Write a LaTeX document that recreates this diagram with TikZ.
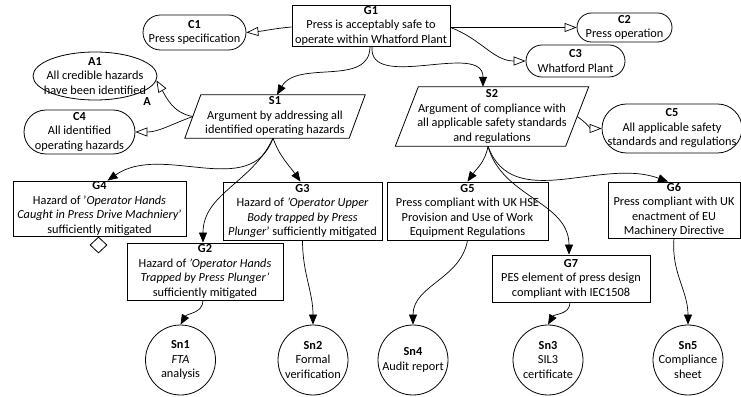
\documentclass[tikz,border=0pt]{standalone}
\usepackage{fontspec}
\setmainfont{Carlito}
\usetikzlibrary{shapes.geometric,shapes.misc,arrows.meta,calc}

\begin{document}
\begin{tikzpicture}[x=1pt,y=1pt,
  font=\fontsize{12.3}{14.5}\selectfont,
  box/.style={draw, line width=0.8pt, align=center, inner sep=0pt},
  goal/.style={box, rectangle},
  txt/.style={label={[align=center, inner sep=0pt]center:{#1}}},
  ctx/.style={box, rounded rectangle, txt={#1}},
  assum/.style={box, ellipse, txt={#1}},
  sol/.style={box, circle, minimum size=70pt, txt={#1}},
  strat/.style={align=center, inner sep=0pt},
  support/.style={line width=0.7pt, -{Triangle[length=10pt,width=8pt]}},
  incontext/.style={line width=0.7pt, -{Triangle[open,length=12pt,width=9pt,fill=white]}},
]
\useasboundingbox (0,0) rectangle (741,396);

% goals
\node[goal, minimum width=158, minimum height=41] (G1) at (371,370.5)
  {\textbf{G1}\\Press is acceptably safe to\\operate within Whatford Plant};
\node[goal, minimum width=173, minimum height=55] (G4) at (99.5,187.5)
  {\textbf{G4}\\Hazard of '\textit{Operator Hands}\\\textit{Caught in Press Drive Machniery}'\\sufficiently mitigated};
\node[goal, minimum width=159, minimum height=58] (G3) at (302.5,185)
  {\textbf{G3}\\Hazard of \textit{'Operator Upper}\\\textit{Body trapped by Press}\\\textit{Plunger}' sufficiently mitigated};
\node[goal, minimum width=156, minimum height=57] (G2) at (205,124.5)
  {\textbf{G2}\\Hazard of \textit{'Operator Hands}\\\textit{Trapped by Press Plunger'}\\sufficiently mitigated};
\node[goal, minimum width=161, minimum height=58] (G5) at (467.5,185)
  {\textbf{G5}\\Press compliant with UK HSE\\Provision and Use of Work\\Equipment Regulations};
\node[goal, minimum width=132, minimum height=56] (G6) at (674,186)
  {\textbf{G6}\\Press compliant with UK\\enactment of EU\\Machinery Directive};
\node[goal, minimum width=158, minimum height=47] (G7) at (571,117.5)
  {\textbf{G7}\\PES element of press design\\compliant with IEC1508};

% contexts and assumption
\node[ctx={\textbf{C1}\\Press specification}, minimum width=103, minimum height=35] (C1) at (194.5,363.5) {};
\node[ctx={\textbf{C2}\\Press operation}, minimum width=95, minimum height=29] (C2) at (624.5,368.5) {};
\node[ctx={\textbf{C3}\\Whatford Plant}, minimum width=99, minimum height=32] (C3) at (575.5,335) {};
\node[ctx={\textbf{C4}\\All identified\\operating hazards}, minimum width=111, minimum height=44] (C4) at (79.5,264) {};
\node[ctx={\textbf{C5}\\All applicable safety\\standards and regulations}, minimum width=140, minimum height=49] (C5) at (672,267.5) {};
\node[assum={\textbf{A1}\\All credible hazards\\have been identified}, minimum width=124, minimum height=48] (A1) at (95,320) {};
\node[font=\fontsize{12.3}{14}\selectfont\bfseries] (A1tag) at (147,294) {A};

% strategies (parallelograms drawn round their text nodes)
\node[strat, minimum width=164, minimum height=43] (S1) at (275,279.5)
  {\textbf{S1}\\Argument by addressing all\\identified operating hazards};
\draw[line width=0.8pt] ($(S1.north west)+(8,0)$) -- ($(S1.north east)+(8,0)$)
  -- ($(S1.south east)+(-8,0)$) -- ($(S1.south west)+(-8,0)$) -- cycle;
\node[strat, minimum width=170, minimum height=59] (S2) at (492,279.5)
  {\textbf{S2}\\Argument of compliance with\\all applicable safety standards\\and regulations};
\draw[line width=0.8pt] ($(S2.north west)+(11.5,0)$) -- ($(S2.north east)+(11.5,0)$)
  -- ($(S2.south east)+(-11.5,0)$) -- ($(S2.south west)+(-11.5,0)$) -- cycle;

% undeveloped marker
\node[draw, line width=0.8pt, diamond, fill=white, minimum width=17, minimum height=16, inner sep=0pt] (U4) at (98.5,151) {};

% solutions
\node[sol={\textbf{Sn1}\\\textit{FTA}\\analysis}] (Sn1) at (180.5,36) {};
\node[sol={\textbf{Sn2}\\Formal\\verification}] (Sn2) at (313,36) {};
\node[sol={\textbf{Sn4}\\Audit report}] (Sn4) at (413,36) {};
\node[sol={\textbf{Sn3}\\SIL3\\certificate}] (Sn3) at (548,36) {};
\node[sol={\textbf{Sn5}\\Compliance\\sheet}] (Sn5) at (688,36) {};

% in-context-of links
\draw[incontext] ($(G1.west)+(0,-1.5)$) to[out=185,in=5] (C1.east);
\draw[incontext] ($(G1.east)+(0,-2)$) -- (C2.west);
\draw[incontext] ($(G1.east)+(0,-2)$) to[out=-20,in=180] (C3.west);
\draw[incontext] (S1.west) to[out=170,in=-60] (A1.-4);
\draw[incontext] (S1.west) to[out=200,in=0] (C4.east);
\draw[incontext] (S2.east) to[out=-35,in=180] (C5.west);

% supported-by links
\draw[support] ($(G1.south)+(-1,0)$) to[out=-90,in=60] ($(S1.north)+(2,0)$);
\draw[support] ($(G1.south)+(1,0)$) to[out=-95,in=90] ($(S2.north)+(-9,0)$);
\draw[support] ($(S1.south)+(-2,0)$) to[out=-110,in=35] ($(G4.north)+(8,0)$);
\draw[support] ($(S1.south)+(-2,0)$) to[out=-115,in=90] ($(G2.north)+(-2,0)$);
\draw[support] ($(S1.south)+(-2,0)$) to[out=-70,in=125] ($(G3.north)+(-2,0)$);
\draw[support] ($(S2.south)+(-4,0)$) to[out=-100,in=55] (G5.north);
\draw[support] ($(S2.south)+(-4,0)$) to[out=-75,in=90] ($(G7.north)+(-2,0)$);
\draw[support] ($(S2.south)+(-4,0)$) to[out=-70,in=160] ($(G6.north)+(-6,0)$);
\draw[support] ($(G2.south)+(-2,0)$) to[out=-90,in=60] (Sn1.north);
\draw[support] (G3.south) to[out=-90,in=90] (Sn2.north);
\draw[support] (G5.south) to[out=-100,in=90] (Sn4.north);
\draw[support] ($(G7.south)+(-1,0)$) to[out=-90,in=60] (Sn3.north);
\draw[support] (G6.south) to[out=-95,in=90] (Sn5.north);
\end{tikzpicture}
\end{document}
